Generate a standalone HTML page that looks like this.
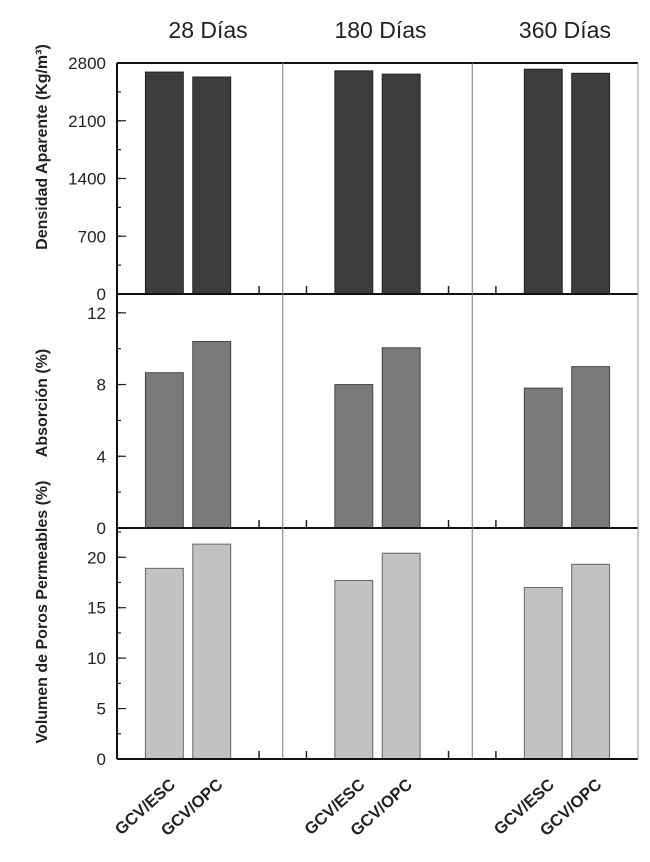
<!DOCTYPE html>
<html><head><meta charset="utf-8"><style>
body{margin:0;background:#fff;width:650px;height:857px;overflow:hidden}
svg text{font-family:"Liberation Sans",sans-serif;fill:#222}
</style></head><body>
<svg id="chart" width="650" height="857" xmlns="http://www.w3.org/2000/svg"></svg>
<script>
const categories = ["GCV/ESC","GCV/OPC"];
const periods = ["28 Días","180 Días","360 Días"];
const densidad = [[2690,2630],[2705,2665],[2725,2675]];
const absorcion = [[8.66,10.4],[8.0,10.05],[7.8,9.0]];
const volumen = [[18.9,21.3],[17.7,20.4],[17.0,19.3]];
const densTicks = [0,700,1400,2100,2800];
const absTicks = [0,4,8,12];
const volTicks = [0,5,10,15,20];

const NS="http://www.w3.org/2000/svg";
const svg=document.getElementById('chart');
function el(t,a,p){const e=document.createElementNS(NS,t);for(const k in a)e.setAttribute(k,a[k]);(p||svg).appendChild(e);return e;}
const L=117,R=638,slot=(R-L)/11;
function xPos(i){return L+slot*(i+1);}
const titleShift=[20,3,-2];
const panels=[
 {name:'densidad',data:densidad,ticks:densTicks,minorStep:350,top:63,bot:294,max:2800,fill:'#3d3d3d',stroke:'#222',label:'Densidad Aparente (Kg/m³)',ly:147,fs:16},
 {name:'absorcion',data:absorcion,ticks:absTicks,minorStep:2,top:294,bot:528,max:13.05,fill:'#7a7a7a',stroke:'#444',label:'Absorción (%)',ly:403,fs:16},
 {name:'volumen',data:volumen,ticks:volTicks,minorStep:2.5,top:528,bot:759,max:22.9,fill:'#c2c2c2',stroke:'#666',label:'Volumen de Poros Permeables (%)',ly:612,fs:16}
];
periods.forEach((p,g)=>{
 const t=el('text',{x:(xPos(g*4)+xPos(g*4+1))/2+titleShift[g],y:38,'text-anchor':'middle','font-size':'23'});
 t.textContent=p;
 
 
});
panels.forEach(pn=>{
 const y=v=>pn.bot-(v/pn.max)*(pn.bot-pn.top);
 pn.data.forEach((pair,g)=>{
  pair.forEach((v,c)=>{
   const cx=xPos(g*4+c),w=slot*0.8;
   const r=el('rect',{x:cx-w/2,y:y(v),width:w,height:pn.bot-y(v),fill:pn.fill,stroke:pn.stroke,'stroke-width':1});
   
   
  });
 });
 [2,3,6,7].forEach(i=>el('line',{x1:xPos(i),x2:xPos(i),y1:pn.bot,y2:pn.bot-8,stroke:'#222','stroke-width':1.5}));
 for(let v=0;v<=pn.max+1e-9;v+=pn.minorStep){el('line',{x1:L,x2:L+4,y1:y(v),y2:y(v),stroke:'#222','stroke-width':1.2});}
 pn.ticks.forEach(v=>{
  el('line',{x1:L,x2:L+9,y1:y(v),y2:y(v),stroke:'#222','stroke-width':1.2});
  const t=el('text',{x:L-11,y:y(v)+6,'text-anchor':'end','font-size':'17'});
  t.textContent=v;
  
  
 });
 const lt=el('text',{x:0,y:0,'text-anchor':'middle','font-size':pn.fs,'font-weight':'bold',transform:`translate(47,${pn.ly}) rotate(-90)`});
 lt.textContent=pn.label;
 
 
 el('line',{x1:L,x2:R,y1:pn.bot,y2:pn.bot,stroke:'#111','stroke-width':2});
});
el('line',{x1:L,x2:R,y1:63,y2:63,stroke:'#111','stroke-width':2});
el('line',{x1:L,x2:L,y1:63,y2:759,stroke:'#111','stroke-width':2});
[2.5,6.5].forEach(i=>el('line',{x1:xPos(i),x2:xPos(i),y1:63,y2:759,stroke:'#777','stroke-width':1}));
el('line',{x1:R,x2:R,y1:63,y2:759,stroke:'#999','stroke-width':1});
for(let g=0;g<3;g++)categories.forEach((c,ci)=>{
 const cx=xPos(g*4+ci);
 const t=el('text',{x:0,y:0,'text-anchor':'end','font-size':'16.5','font-weight':'bold',transform:`translate(${cx+12},${786}) rotate(-42)`});
 t.textContent=c;
 
 
});
</script>
</body></html>
